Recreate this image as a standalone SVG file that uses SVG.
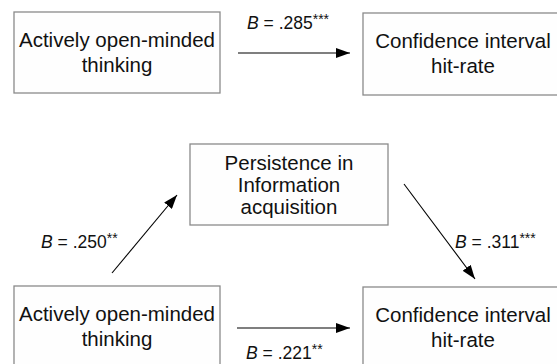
<svg xmlns="http://www.w3.org/2000/svg" width="557" height="364" viewBox="0 0 557 364">
<style>
.box{fill:#fefefe;stroke:#8a8a8a;stroke-width:1.3}
.t{font-family:"Liberation Sans",Arial,sans-serif;font-size:20.5px;fill:#111;text-anchor:middle}
.l{font-family:"Liberation Sans",Arial,sans-serif;font-size:17.5px;fill:#111}
.sup{font-size:14px}
.c{stroke:#000;stroke-width:1.1;fill:none;marker-end:url(#ah)}
</style>
<defs>
<marker id="ah" viewBox="0 0 14 10" refX="14" refY="5" markerWidth="14" markerHeight="10" markerUnits="userSpaceOnUse" orient="auto">
<path d="M0,0 L14,5 L0,10 Z" fill="#000"/>
</marker>
</defs>
<rect width="557" height="364" fill="#fff"/>
<g id="aot1">
<rect class="box" x="14" y="12" width="206" height="81"/>
<text class="t" x="117" y="47">Actively open-minded</text>
<text class="t" x="117" y="72">thinking</text>
</g>
<g id="ci1">
<rect class="box" x="363" y="13" width="200" height="82"/>
<text class="t" x="463" y="48">Confidence interval</text>
<text class="t" x="463" y="73">hit-rate</text>
</g>
<g id="pia">
<rect class="box" x="190" y="144" width="198" height="81"/>
<text class="t" x="289" y="170">Persistence in</text>
<text class="t" x="289" y="192">Information</text>
<text class="t" x="289" y="214">acquisition</text>
</g>
<g id="aot2">
<rect class="box" x="14" y="286" width="206" height="90"/>
<text class="t" x="117" y="321">Actively open-minded</text>
<text class="t" x="117" y="346">thinking</text>
</g>
<g id="ci2">
<rect class="box" x="363" y="287" width="200" height="90"/>
<text class="t" x="463" y="322">Confidence interval</text>
<text class="t" x="463" y="347">hit-rate</text>
</g>
<g id="connectors">
<line class="c" x1="238" y1="53" x2="350" y2="53"/>
<line class="c" x1="112" y1="273" x2="177" y2="195"/>
<line class="c" x1="404" y1="184" x2="475" y2="279"/>
<line class="c" x1="237" y1="328" x2="350" y2="328"/>
</g>
<g id="labels">
<text class="l" x="247" y="29"><tspan font-style="italic">B</tspan> = .285<tspan class="sup" dy="-5">***</tspan></text>
<text class="l" x="41" y="248"><tspan font-style="italic">B</tspan> = .250<tspan class="sup" dy="-5">**</tspan></text>
<text class="l" x="455" y="248"><tspan font-style="italic">B</tspan> = .311<tspan class="sup" dy="-5">***</tspan></text>
<text class="l" x="246" y="359"><tspan font-style="italic">B</tspan> = .221<tspan class="sup" dy="-5">**</tspan></text>
</g>
</svg>
